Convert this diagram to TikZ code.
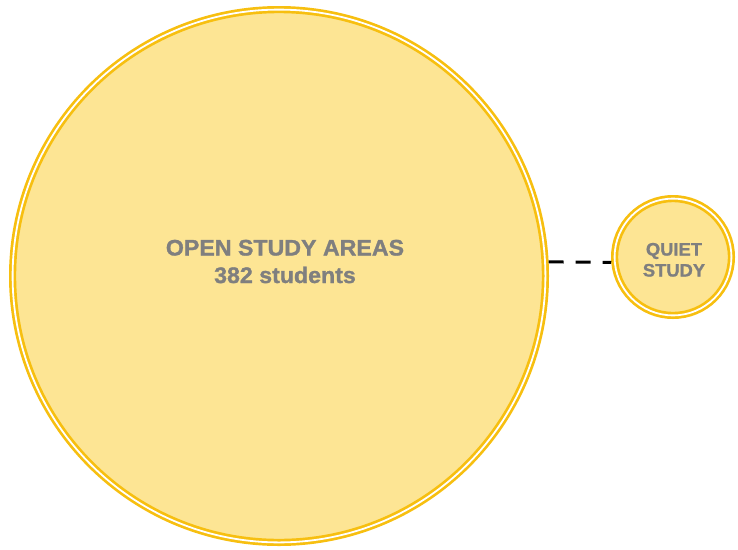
\documentclass[tikz,border=0pt]{standalone}
\usepackage{fontspec}
\setmainfont{Liberation Sans}
\newfontfamily\heavyfont[FakeBold=1.2]{Liberation Sans Bold}
\definecolor{ringc}{HTML}{F7BF10}
\definecolor{fillc}{HTML}{FDE594}
\definecolor{txtc}{HTML}{7F7F7F}
\begin{document}
\begin{tikzpicture}[x=1pt,y=-1pt,
  bubble/.style={circle, draw=ringc, line width=2.7pt, double=white, double distance=1.8pt, fill=fillc, inner sep=0pt, outer sep=3.6pt},
  bigtxt/.style={anchor=base, text=txtc, font=\heavyfont\fontsize{22.5}{25}\selectfont, xscale=1.03, inner sep=0pt},
  smalltxt/.style={anchor=base, text=txtc, font=\heavyfont\fontsize{18}{21}\selectfont, xscale=1.02, inner sep=0pt},
  link/.style={black, line width=3pt, dash pattern=on 15pt off 12pt}]
\useasboundingbox (0,0) rectangle (738,549);
\node[bubble, minimum size=532.8pt] (big) at (279,276) {};
\node[bubble, minimum size=116.8pt] (small) at (673,257) {};
\draw[link] (big.3) -- (small.185);
\node[bigtxt] (open1) at (285,255.5) {OPEN STUDY AREAS};
\node[bigtxt] (open2) at (285,283) {382 students};
\node[smalltxt] (quiet1) at (674,255.5) {QUIET};
\node[smalltxt] (quiet2) at (674,276.5) {STUDY};
\end{tikzpicture}
\end{document}
